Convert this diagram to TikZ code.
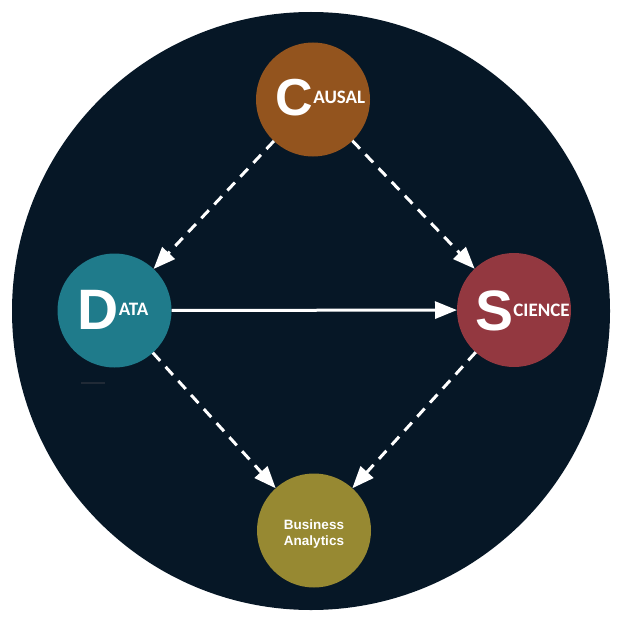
\documentclass[tikz,border=0pt]{standalone}
\usepackage{fontspec}
\setmainfont{Liberation Sans}
\newfontfamily\carl{Carlito}
\usetikzlibrary{arrows.meta}
\definecolor{bgnavy}{RGB}{6,23,38}
\definecolor{causalc}{RGB}{147,84,30}
\definecolor{datac}{RGB}{31,123,139}
\definecolor{sciencec}{RGB}{147,56,64}
\definecolor{busc}{RGB}{151,137,50}
\definecolor{faint}{RGB}{32,42,54}
\tikzset{
  topic/.style={circle, minimum size=114pt, inner sep=0pt, outer sep=0pt},
  lbl/.style={text=white, inner sep=0pt, align=center},
  link/.style={draw=white, line width=3pt, -{Triangle[length=22pt,width=17pt]}},
  dlink/.style={link, dash pattern=on 11pt off 8pt},
}
\newcommand{\capword}[4]{{\fontsize{#3}{#3}\selectfont\bfseries #1}\raisebox{#4}{\carl\bfseries\fontsize{19}{19}\selectfont #2}}
\begin{document}
\begin{tikzpicture}[x=1pt,y=-1pt]
\useasboundingbox (0,0) rectangle (620,623);
\fill[bgnavy] (311,311) circle (299pt);
\draw[faint, line width=2.5pt] (81,383) -- (105,383);
\node[topic, fill=causalc] (causal) at (313,99.5) {};
\node[topic, fill=datac] (data) at (114.5,310.5) {};
\node[topic, fill=sciencec] (science) at (514,310) {};
\node[topic, fill=busc] (bus) at (314,530.5) {};
\node[lbl] (causaltxt) at (320.5,98) {\capword{C}{AUSAL}{52pt}{12.5pt}};
\node[lbl] (datatxt) at (113,310) {\capword{D}{ATA}{57pt}{14.3pt}};
\node[lbl] (sciencetxt) at (522.5,311) {\capword{S}{CIENCE}{57pt}{14.3pt}};
\node[lbl, font=\bfseries\fontsize{13.5}{15.5}\selectfont] (bustxt) at (314,534) {Business\\Analytics};
\draw[dlink] (causal) -- (data);
\draw[dlink] (causal) -- (science);
\draw[dlink] (data) -- (bus);
\draw[dlink] (science) -- (bus);
\draw[link] (data) -- (science);
\end{tikzpicture}
\end{document}
